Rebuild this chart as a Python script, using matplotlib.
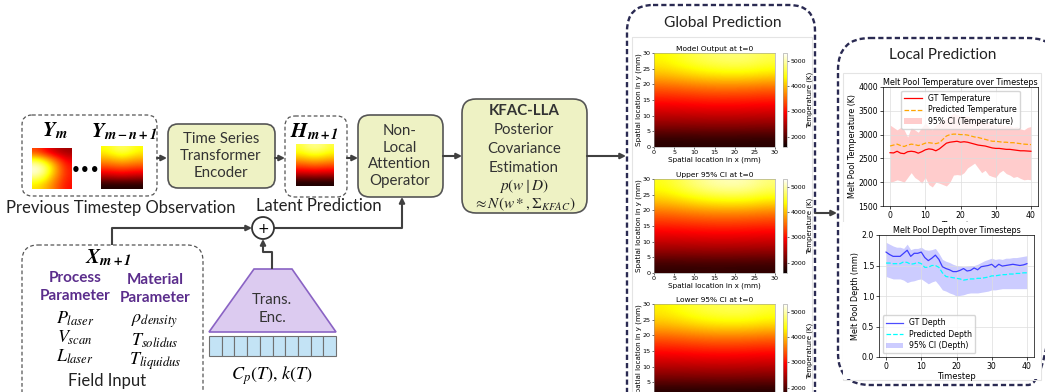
import numpy as np
import matplotlib.pyplot as plt
from matplotlib.patches import FancyBboxPatch, Polygon, Rectangle, Circle

plt.rcParams['mathtext.fontset'] = 'stix'

W, H = 1045, 392
TXT = ['Lato', 'DejaVu Sans']

# ---- temperature fields (K), rows y = 0..30 mm step 5, cols x = 0..30 mm step 5
model_out = [
    [1750, 1750, 1760, 1760, 1760, 1750, 1750],
    [2250, 2250, 2260, 2270, 2270, 2260, 2250],
    [2650, 2660, 2680, 2690, 2690, 2680, 2660],
    [3050, 3070, 3100, 3120, 3120, 3100, 3080],
    [3500, 3550, 3600, 3640, 3640, 3620, 3570],
    [4050, 4150, 4250, 4320, 4350, 4330, 4250],
    [4350, 4500, 4650, 4750, 4800, 4780, 4650],
]
upper_ci = [
    [1800, 1800, 1810, 1810, 1810, 1800, 1800],
    [2300, 2300, 2310, 2320, 2320, 2310, 2300],
    [2700, 2710, 2730, 2740, 2740, 2730, 2710],
    [3100, 3120, 3150, 3170, 3170, 3150, 3130],
    [3550, 3600, 3660, 3700, 3700, 3680, 3620],
    [4100, 4220, 4350, 4430, 4460, 4430, 4320],
    [4450, 4650, 4850, 5000, 5050, 5000, 4800],
]
lower_ci = [
    [1700, 1700, 1710, 1710, 1710, 1700, 1700],
    [2200, 2200, 2210, 2220, 2220, 2210, 2200],
    [2600, 2610, 2630, 2640, 2640, 2630, 2610],
    [3000, 3020, 3050, 3070, 3070, 3050, 3030],
    [3450, 3500, 3550, 3590, 3590, 3570, 3520],
    [4000, 4080, 4180, 4250, 4270, 4250, 4180],
    [4300, 4430, 4570, 4650, 4690, 4670, 4550],
]
field_titles = ['Model Output at t=0', 'Upper 95% CI at t=0', 'Lower 95% CI at t=0']

# ---- thumbnails (top row first)
y_m = [
    [3300, 3000, 2700, 2500, 2400],
    [4600, 4300, 3800, 3300, 2900],
    [5300, 5000, 4300, 3600, 3100],
    [4900, 4600, 4000, 3500, 3100],
    [4200, 4000, 3700, 3300, 3000],
]
y_mn = [
    [4400, 4600, 4750, 4600, 4400],
    [3900, 4000, 4100, 4000, 3900],
    [3300, 3350, 3400, 3350, 3300],
    [2600, 2650, 2700, 2650, 2600],
    [1700, 1700, 1700, 1700, 1700],
]
h_m1 = [
    [4600, 4800, 4900, 4800, 4600],
    [4100, 4200, 4250, 4200, 4100],
    [3400, 3450, 3500, 3450, 3400],
    [2700, 2700, 2750, 2700, 2700],
    [1700, 1700, 1700, 1700, 1700],
]

# ---- melt pool time series
steps = list(range(41))
gt_temp = [2620, 2615, 2650, 2610, 2600, 2640, 2650, 2640, 2610, 2640, 2680, 2700, 2690, 2660,
           2700, 2760, 2820, 2840, 2850, 2860, 2840, 2850, 2840, 2820, 2800, 2780, 2770, 2760,
           2740, 2720, 2710, 2710, 2700, 2690, 2690, 2680, 2670, 2660, 2660, 2655, 2650]
pred_temp = [2760, 2780, 2800, 2770, 2750, 2780, 2800, 2790, 2770, 2790, 2820, 2830, 2820, 2810,
             2830, 2900, 2970, 3000, 3010, 3010, 3000, 3000, 2990, 2970, 2950, 2940, 2920, 2900,
             2880, 2860, 2860, 2850, 2840, 2840, 2830, 2830, 2820, 2810, 2800, 2795, 2790]
temp_hi = [3200, 3150, 3100, 3150, 3100, 2950, 3150, 3100, 3050, 3150, 3250, 3150, 3100, 3200,
           3250, 3300, 3350, 3400, 3450, 3420, 3400, 3380, 3400, 3350, 3300, 3320, 3280, 3250,
           3270, 3220, 3200, 3230, 3200, 3180, 3200, 3150, 3170, 3120, 3100, 3150, 3170]
temp_lo = [2000, 2020, 2050, 2030, 2000, 2100, 2200, 2100, 2050, 1980, 2100, 1950, 1900, 2000,
           1980, 1950, 1920, 2000, 2150, 2160, 2150, 2200, 2300, 2350, 2400, 2300, 2200, 2250,
           2150, 2120, 2100, 2200, 2250, 2180, 2150, 2100, 2120, 2080, 2050, 2060, 2050]
gt_depth = [1.72, 1.68, 1.65, 1.65, 1.65, 1.70, 1.75, 1.65, 1.70, 1.70, 1.72, 1.63, 1.58, 1.62,
            1.67, 1.60, 1.48, 1.45, 1.43, 1.40, 1.40, 1.42, 1.45, 1.41, 1.42, 1.46, 1.43, 1.48,
            1.49, 1.50, 1.52, 1.47, 1.52, 1.49, 1.50, 1.51, 1.52, 1.51, 1.50, 1.51, 1.53]
pred_depth = [1.54, 1.54, 1.53, 1.53, 1.53, 1.56, 1.55, 1.52, 1.53, 1.55, 1.53, 1.47, 1.47, 1.50,
              1.50, 1.47, 1.38, 1.32, 1.31, 1.30, 1.29, 1.28, 1.26, 1.27, 1.28, 1.28, 1.29, 1.29,
              1.30, 1.31, 1.33, 1.33, 1.34, 1.35, 1.35, 1.36, 1.36, 1.37, 1.37, 1.38, 1.38]
depth_hi = [1.88, 1.85, 1.82, 1.80, 1.80, 1.78, 1.85, 1.76, 1.78, 1.78, 1.80, 1.76, 1.75, 1.76,
            1.78, 1.70, 1.60, 1.57, 1.55, 1.52, 1.50, 1.49, 1.48, 1.49, 1.50, 1.50, 1.52, 1.55,
            1.58, 1.60, 1.62, 1.60, 1.61, 1.60, 1.62, 1.62, 1.63, 1.63, 1.64, 1.65, 1.66]
depth_lo = [1.32, 1.30, 1.28, 1.28, 1.28, 1.26, 1.22, 1.24, 1.25, 1.27, 1.28, 1.24, 1.20, 1.23,
            1.25, 1.18, 1.10, 1.08, 1.05, 1.03, 1.00, 1.01, 1.02, 1.04, 1.05, 1.05, 1.05, 1.06,
            1.07, 1.08, 1.10, 1.10, 1.11, 1.12, 1.12, 1.12, 1.12, 1.12, 1.12, 1.12, 1.12]

VMIN, VMAX = 1600, 5300

fig = plt.figure(figsize=(W / 100, H / 100), dpi=100)
ax = fig.add_axes([0, 0, 1, 1])
ax.set_xlim(0, W)
ax.set_ylim(H, 0)
ax.axis('off')


def px_axes(x0, y0, x1, y1):
    return fig.add_axes([x0 / W, 1 - y1 / H, (x1 - x0) / W, (y1 - y0) / H])


def rbox(x0, y0, x1, y1, r, fc='none', ec='#555555', lw=1.2, ls='-', z=1):
    p = FancyBboxPatch((x0, y0), x1 - x0, y1 - y0,
                       boxstyle=f'round,pad=0,rounding_size={r}',
                       fc=fc, ec=ec, lw=lw, linestyle=ls, zorder=z)
    ax.add_patch(p)


def arrow(x0, y0, x1, y1):
    ax.annotate('', xy=(x1, y1), xytext=(x0, y0),
                arrowprops=dict(arrowstyle='-|>', color='#404040', lw=1.5,
                                mutation_scale=8, shrinkA=0, shrinkB=0))


def line(xs, ys):
    ax.plot(xs, ys, color='#404040', lw=1.5, solid_capstyle='butt')


def thumb(data, x0, y0, x1, y1):
    ax.imshow(data, extent=(x0, x1, y1, y0), cmap='hot', vmin=VMIN, vmax=VMAX,
              interpolation='bicubic', aspect='auto', zorder=3)


LIGHT = '#eef2c4'
DASH = (0, (3, 2))
BODY = dict(fontsize=10.8, ha='center', va='center', family=TXT, color='#333333')
CAPTION = dict(fontsize=12, ha='center', va='center', family=TXT, color='#222222')

# observation block
rbox(22, 115, 157, 196, 10, ec='#555555', lw=0.9, ls=DASH)
thumb(y_m, 32, 148, 72, 189)
thumb(y_mn, 101, 146, 143, 189)
ax.text(55, 131, r'$\mathbfit{Y}_{\mathbfit{m}}$', fontsize=15, ha='center', va='center')
ax.text(124, 132, r'$\mathbfit{Y}_{\mathbfit{m-n+1}}$', fontsize=15, ha='center', va='center')
ax.text(86, 170, '•••', fontsize=11, ha='center', va='center', fontweight='bold')
ax.text(121, 208, 'Previous Timestep Observation', **CAPTION)
arrow(157, 158, 167, 158)

# temporal encoder
rbox(168, 124, 275, 188, 10, fc=LIGHT)
ax.text(221, 156, 'Time Series\nTransformer\nEncoder', linespacing=1.25, **BODY)
arrow(275, 158, 285, 158)

# latent state
rbox(285, 116, 347, 197, 10, ec='#555555', lw=0.9, ls=DASH)
thumb(h_m1, 296, 144, 334, 186)
ax.text(315, 132, r'$\mathbfit{H}_{\mathbfit{m+1}}$', fontsize=15, ha='center', va='center')
ax.text(319, 206, 'Latent Prediction', **CAPTION)
arrow(347, 158, 358, 158)

# non-local attention
rbox(358, 115, 443, 197, 12, fc=LIGHT)
ax.text(400, 156, 'Non-\nLocal\nAttention\nOperator', linespacing=1.25, **BODY)
arrow(443, 156, 462, 156)

# posterior block
rbox(462, 99, 587, 213, 14, fc=LIGHT)
ax.text(524, 111, 'KFAC-LLA', fontweight='bold', **BODY)
ax.text(524, 130, 'Posterior', **BODY)
ax.text(524, 149, 'Covariance', **BODY)
ax.text(524, 168, 'Estimation', **BODY)
ax.text(524, 186, r'$p(w\mid D)$', fontsize=11, ha='center', va='center', color='#222222')
ax.text(524, 204, r'$\approx N(w*,\Sigma_{KFAC})$', fontsize=11, ha='center', va='center',
        color='#222222')
arrow(587, 156, 626, 156)

# field input block
rbox(22, 245, 203, 410, 16, ec='#555555', lw=0.9, ls=DASH)
ax.text(108, 258, r'$\mathbfit{X}_{\mathbfit{m+1}}$', fontsize=15, ha='center', va='center')
PURPLE = '#5b2d8c'
ax.text(75, 287, 'Process\nParameter', fontsize=11, ha='center', va='center', family=TXT,
        fontweight='bold', color=PURPLE, linespacing=1.3)
ax.text(155, 289, 'Material\nParameter', fontsize=11, ha='center', va='center', family=TXT,
        fontweight='bold', color=PURPLE, linespacing=1.3)
for lab, yy in zip([r'$P_{laser}$', r'$V_{scan}$', r'$L_{laser}$'], [319, 338, 357]):
    ax.text(75, yy, lab, fontsize=13, ha='center', va='center')
for lab, yy in zip([r'$\rho_{density}$', r'$T_{solidus}$', r'$T_{liquidus}$'], [321, 341, 361]):
    ax.text(155, yy, lab, fontsize=13, ha='center', va='center')
ax.text(107, 381, 'Field Input', **CAPTION)

# fusion node
ax.add_patch(Circle((263, 228), 11, fc='white', ec='#333333', lw=1.3, zorder=4))
ax.text(263, 228.5, '+', fontsize=10, ha='center', va='center', zorder=5)
line([112, 112], [245, 228])
arrow(112, 228, 252, 228)
line([274, 402], [228, 228])
arrow(402, 228, 402, 197)
line([272, 272, 263], [269, 252, 252])
arrow(263, 252, 263, 239)

# property encoder
ax.add_patch(Polygon([(209, 332), (336, 332), (292, 269), (254, 269)], closed=True,
                     fc='#dccbf0', ec='#8a63c4', lw=1.2))
ax.text(272, 309, 'Trans.\nEnc.', linespacing=1.3, **BODY)
cell_w = (336 - 209) / 10
for i in range(10):
    ax.add_patch(Rectangle((209 + i * cell_w, 336), cell_w, 20, fc='#c3e3f5', ec='#707070', lw=0.8))
ax.text(272, 376, r'$C_p(T),\, k(T)$', fontsize=13, ha='center', va='center')

# global prediction panel
rbox(627, 5, 815, 440, 26, ec='#2a2a52', lw=1.7, ls=(0, (2.2, 1.3)))
ax.add_patch(Rectangle((632, 37), 180, 380, fc='none', ec='#e4e4e4', lw=0.8))
ax.text(723, 23, 'Global Prediction', fontsize=11.2, ha='center', va='center', family=TXT,
        color='#222222')
arrow(815, 213, 837, 213)

# local prediction panel
rbox(838, 38, 1060, 385, 32, ec='#2a2a52', lw=1.7, ls=(0, (2.2, 1.3)))
ax.add_patch(Rectangle((843, 73), 198, 307, fc='none', ec='#e4e4e4', lw=0.8))
ax.text(943, 55, 'Local Prediction', fontsize=11, ha='center', va='center', family=TXT,
        color='#222222')

# heat maps
axis_mm = np.arange(0, 31, 5)
for fld, title, (y0, y1) in zip([model_out, upper_ci, lower_ci], field_titles,
                                [(53, 147), (179, 273), (304, 398)]):
    hax = px_axes(654, y0, 775, y1)
    im = hax.imshow(fld, origin='lower', extent=(0, 30, 0, 30), cmap='hot',
                    vmin=VMIN, vmax=VMAX, interpolation='bicubic', aspect='auto')
    hax.set_xticks(axis_mm)
    hax.set_yticks(axis_mm)
    hax.tick_params(labelsize=4.6, length=1.5, width=0.4, pad=1)
    hax.set_title(title, fontsize=5.4, pad=1.5)
    hax.set_xlabel('Spatial location in x (mm)', fontsize=5.2, labelpad=0.5)
    hax.set_ylabel('Spatial location in y (mm)', fontsize=5.2, labelpad=0.5)
    for s in hax.spines.values():
        s.set_linewidth(0.4)
        s.set_color('#999999')
    cax = px_axes(783, y0, 787, y1)
    cb = fig.colorbar(im, cax=cax, ticks=[2000, 3000, 4000, 5000])
    cb.ax.tick_params(labelsize=4.5, length=1.5, width=0.4, pad=1)
    cb.set_label('Temperature (K)', fontsize=5, labelpad=0.5)
    cb.outline.set_linewidth(0.4)
    cb.outline.set_edgecolor('#999999')

# temperature over time
tax = px_axes(883, 87, 1038, 206)
tax.fill_between(steps, temp_lo, temp_hi, color='red', alpha=0.2, lw=0,
                 label='95% CI (Temperature)')
tax.plot(steps, gt_temp, color='red', lw=0.9, label='GT Temperature')
tax.plot(steps, pred_temp, color='orange', lw=0.9, ls='--', label='Predicted Temperature')
tax.set_ylim(1500, 4000)
tax.set_xlim(-2, 42)
tax.set_xticks([0, 10, 20, 30, 40])
tax.grid(True, color='#dddddd', lw=0.5)
tax.set_title('Melt Pool Temperature over Timesteps', fontsize=5.8, pad=1.5)
tax.set_xlabel('Timestep', fontsize=6, labelpad=0.5)
tax.set_ylabel('Melt Pool Temperature (K)', fontsize=5.8, labelpad=1)
tax.tick_params(labelsize=5.6, length=2, width=0.5, pad=1.5)
h, l = tax.get_legend_handles_labels()
tax.legend([h[1], h[2], h[0]], [l[1], l[2], l[0]], loc='upper center', fontsize=5.6,
           framealpha=0.8, borderpad=0.4, handlelength=2.2, labelspacing=0.3)
for s in tax.spines.values():
    s.set_linewidth(0.5)

# white backing of the depth plot sits over the upper plot's x label
back = px_axes(843, 222, 1041, 379)
back.set_facecolor('white')
back.set_xticks([])
back.set_yticks([])
for s in back.spines.values():
    s.set_visible(False)

# depth over time
dax = px_axes(879, 235, 1034, 357)
dax.fill_between(steps, depth_lo, depth_hi, color='blue', alpha=0.2, lw=0, label='95% CI (Depth)')
dax.plot(steps, gt_depth, color='blue', lw=0.9, alpha=0.7, label='GT Depth')
dax.plot(steps, pred_depth, color='cyan', lw=0.9, ls='--', label='Predicted Depth')
dax.set_ylim(0, 2.0)
dax.set_xlim(-2, 42)
dax.set_xticks([0, 10, 20, 30, 40])
dax.grid(True, color='#dddddd', lw=0.5)
dax.set_title('Melt Pool Depth over Timesteps', fontsize=5.8, pad=1.5)
dax.set_xlabel('Timestep', fontsize=6, labelpad=1)
dax.set_ylabel('Melt Pool Depth (mm)', fontsize=5.8, labelpad=1)
dax.tick_params(labelsize=5.6, length=2, width=0.5, pad=1.5)
h, l = dax.get_legend_handles_labels()
dax.legend([h[1], h[2], h[0]], [l[1], l[2], l[0]], loc='lower left', fontsize=5.6,
           framealpha=0.8, borderpad=0.4, handlelength=2.2, labelspacing=0.3)
for s in dax.spines.values():
    s.set_linewidth(0.5)

fig.savefig('out.png', dpi=100)
